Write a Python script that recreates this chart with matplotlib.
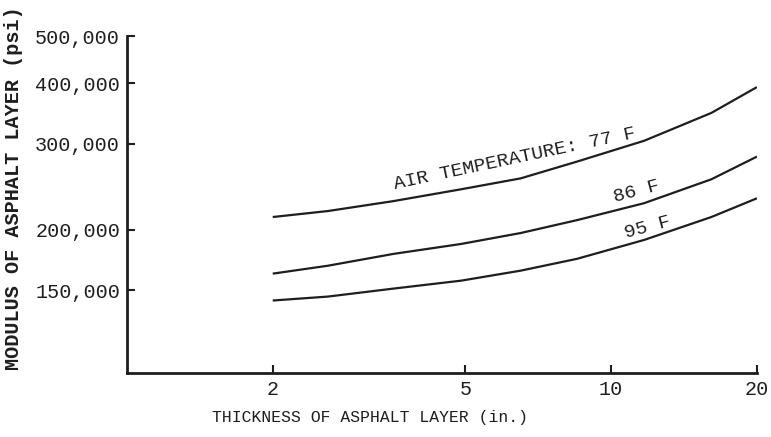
import numpy as np
import matplotlib
matplotlib.use("Agg")
import matplotlib.pyplot as plt
from matplotlib.ticker import FixedLocator, NullLocator

# thickness of asphalt layer (in.)
thickness = [2, 2.6, 3.55, 4.9, 6.5, 8.5, 11.7, 16.1, 20]

# modulus of asphalt layer (psi)
mod_77 = [212200, 218300, 228800, 242000, 254800, 275900, 304500, 347400, 392600]
mod_86 = [162300, 168500, 178200, 186800, 196700, 209100, 226600, 253700, 282500]
mod_95 = [142900, 145600, 151200, 157000, 164600, 174100, 190400, 212200, 231900]

x_ticks = [2, 5, 10, 20]
y_ticks = [150000, 200000, 300000, 400000, 500000]
y_ticklabels = ["150,000", "200,000", "300,000", "400,000", "500,000"]

ink = "#1e1e1e"
plt.rcParams['font.family'] = ["Liberation Mono", 'DejaVu Sans']

fig = plt.figure(figsize=(7.71, 4.37), dpi=100)
ax = fig.add_axes([0.1647, 0.1465, 0.8171, 0.7711])

for vals in (mod_77, mod_86, mod_95):
    ax.plot(thickness, vals, color=ink, lw=1.6, solid_capstyle="butt",
            solid_joinstyle="round")

ax.set_xscale("log")
ax.set_yscale("log")
ax.set_xlim(1, 20)
ax.set_ylim(101400, 500000)

ax.xaxis.set_major_locator(FixedLocator(x_ticks))
ax.xaxis.set_minor_locator(NullLocator())
ax.set_xticklabels([str(t) for t in x_ticks])
ax.yaxis.set_major_locator(FixedLocator(y_ticks))
ax.yaxis.set_minor_locator(NullLocator())
ax.set_yticklabels(y_ticklabels)

ax.tick_params(direction="in", length=6, width=1.5, labelsize=14.5, pad=5,
               colors=ink)
for side in ("top", "right"):
    ax.spines[side].set_visible(False)
for side in ("left", "bottom"):
    ax.spines[side].set_linewidth(2)
    ax.spines[side].set_color(ink)

ax.set_xlabel("THICKNESS OF ASPHALT LAYER (in.)", fontsize=11.8, color=ink)
ax.xaxis.set_label_coords(0.386, -0.11)
ax.set_ylabel("MODULUS OF ASPHALT LAYER (psi)", fontsize=14.5, color=ink,
              fontweight="bold")
ax.yaxis.set_label_coords(-0.165, 0.55)

ax.text(6.33, 280000, "AIR TEMPERATURE: 77 F", fontsize=14, rotation=12,
        ha="center", va="center", color=ink)
ax.text(11.27, 239900, "86 F", fontsize=14, rotation=15,
        ha="center", va="center", color=ink)
ax.text(11.87, 201400, "95 F", fontsize=14, rotation=15,
        ha="center", va="center", color=ink)

fig.savefig("out.png", dpi=100)
